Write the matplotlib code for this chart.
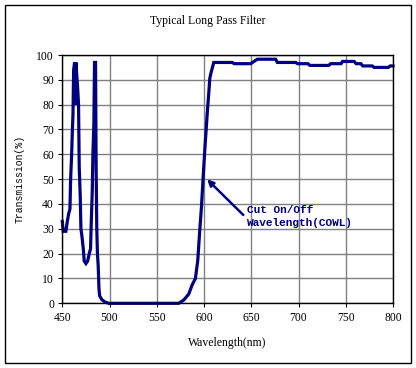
import matplotlib.pyplot as plt
from matplotlib.patches import Rectangle

#-----Data-----#
wavelength = [450, 451, 453.8, 455.3, 456.7, 458.1, 458.8, 459.9, 460.6, 461.3,
              462.0, 463.0, 463.7, 464.4, 465.1, 466.2, 467.2, 467.9, 469.0, 469.7,
              470.8, 472.2, 473.2, 475.0, 476.8, 478.5, 479.9, 480.6, 481.7, 482.4,
              483.4, 484.1, 485.2, 485.8, 486.5, 487.2, 488.0, 488.8, 489.5, 491.8,
              495.3, 499, 520, 550, 573.2, 578.5, 583.8, 587.4, 590.9, 593.4,
              595.5, 597.3, 599.0, 600.8, 603.3, 605.0, 606.1, 607.5, 610.3, 629.8,
              632, 649.3, 656.4, 675.8, 677.6, 697, 699, 710, 712, 732,
              734, 745, 746.6, 758.9, 761, 766, 768, 778, 780, 795,
              797, 800]
transmission = [33, 29, 29, 33, 36, 38, 50, 60, 69, 76,
                94, 97, 80, 97, 93, 87, 80, 55, 43, 30,
                27, 22, 17, 16, 17, 20, 22, 32, 45, 60,
                72, 97, 97, 55, 30, 20, 15, 6, 3, 1.5,
                0.5, 0, 0, 0, 0, 1.3, 3.7, 7.4, 10, 17.4,
                29.5, 38.9, 50.3, 61.7, 76, 84.6, 90.6, 93, 97, 97,
                96.5, 96.5, 98.3, 98.3, 97, 97, 96.5, 96.5, 95.8, 95.8,
                96.5, 96.5, 97.4, 97.4, 96.5, 96.5, 95.6, 95.6, 95, 95,
                95.6, 95.6]
x_ticks = [450, 500, 550, 600, 650, 700, 750, 800]
y_ticks = [0, 10, 20, 30, 40, 50, 60, 70, 80, 90, 100]
#--/--Data--/--#

navy = "#000080"
serif = "Liberation Serif"
mono = "Liberation Mono"

fig = plt.figure(figsize=(4.16, 3.68), dpi=100)

#outer frame of the chart
fig.patches.append(Rectangle((5/416, 1 - 363/368), 406/416, 358/368,
                             transform=fig.transFigure, fill=False,
                             edgecolor="black", linewidth=1))

ax = fig.add_axes([62.3/416, 1 - 303.3/368, 330.7/416, 248.3/368])
ax.plot(wavelength, transmission, color=navy, linewidth=2.3, clip_on=False,
        solid_joinstyle="miter")

ax.set_xlim(450, 800)
ax.set_ylim(0, 100)
ax.set_xticks(x_ticks)
ax.set_yticks(y_ticks)
ax.set_xticklabels([str(t) for t in x_ticks], fontfamily=serif, fontsize=8.4)
ax.set_yticklabels([str(t) for t in y_ticks], fontfamily=serif, fontsize=8.4)
ax.tick_params(direction="out", length=3, width=0.8, pad=3)
ax.grid(True, color="#808080", linewidth=1)
ax.set_axisbelow(True)
for s in ax.spines.values():
    s.set_linewidth(1)

ax.set_xlabel("Wavelength(nm)", fontfamily=serif, fontsize=8.5)
ax.xaxis.set_label_coords(0.5, -0.134)
ax.set_ylabel("Transmission(%)", fontfamily=mono, fontsize=7)
ax.yaxis.set_label_coords(-0.113, 0.5)
fig.text(208/416, 1 - 21/368, "Typical Long Pass Filter", ha="center",
         va="center", fontfamily=serif, fontsize=8.5)

ax.annotate("", xy=(603.3, 49.9), xytext=(641.5, 35.6),
            arrowprops=dict(arrowstyle="-|>", color=navy, lw=1.8,
                            mutation_scale=9, shrinkA=0, shrinkB=0))
ax.text(645, 35, "Cut On/Off\nWavelength(COWL)", ha="left", va="center",
        fontfamily=mono, fontweight="bold", fontsize=8, color=navy,
        linespacing=1.3)

fig.savefig("out.png", dpi=100)
